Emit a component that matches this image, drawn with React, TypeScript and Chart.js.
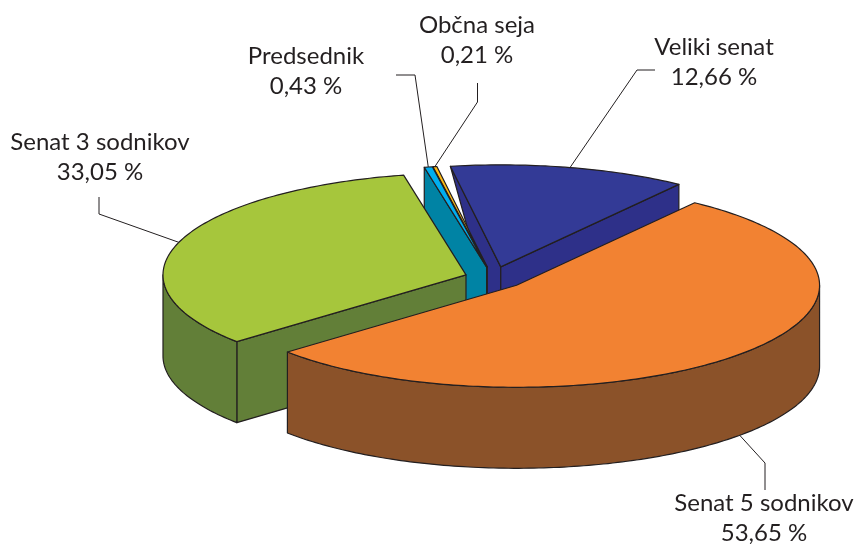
import React, { useEffect, useRef } from "react";
import { Chart, registerables } from "chart.js";

Chart.register(...registerables);

const categories = ["Senat 5 sodnikov", "Senat 3 sodnikov", "Predsednik", "Občna seja", "Veliki senat"];
const shares = [53.65, 33.05, 0.43, 0.21, 12.66];
const topColors = ["#F28232", "#A6C63C", "#00AEEF", "#FDB913", "#333A96"];
const wallColors = ["#8B5229", "#627F38", "#0083A4", "#C98F10", "#2E3089"];
const explode = [32, 28.5, 33, 33, 34];
const paintOrder = [4, 3, 2, 1, 0];
const taperedStartWall = [false, false, false, false, true];

const INK = "#231F20";
const FONT = '24px Lato, "Noto Sans", sans-serif';
const RX = 303;
const RY = 102;
const DEPTH = 81;

// label anchor (centre x, baseline of the first line) and the leader's elbows
const labelLayout = [
  { x: 764, y: 511, elbows: [[765, 463], [765, 490]], fromWall: true },
  { x: 100, y: 150, elbows: [[99, 214], [99, 197]], fromWall: false },
  { x: 306, y: 64, elbows: [[415, 75], [396, 75]], fromWall: false },
  { x: 477, y: 33, elbows: [[477.5, 102], [477.5, 83]], fromWall: false },
  { x: 714, y: 55, elbows: [[637, 70], [655, 70]], fromWall: false },
];

const tiltedPie = {
  id: "tiltedPie",
  beforeDatasetsDraw(chart: any) {
    const ctx: CanvasRenderingContext2D = chart.ctx;
    const arcs = chart.getDatasetMeta(0).data;
    const at = (arc: any, angle: number, radial: number, drop = 0) => {
      const mid = (arc.startAngle + arc.endAngle) / 2;
      const off = arc.options.offset;
      return [
        arc.x + Math.cos(mid) * off + Math.cos(angle) * radial * RX,
        arc.y + (Math.sin(mid) * off * RY) / RX + Math.sin(angle) * radial * RY + drop,
      ];
    };
    const poly = (pts: number[][], fill: string) => {
      ctx.beginPath();
      pts.forEach((p, i) => (i ? ctx.lineTo(p[0], p[1]) : ctx.moveTo(p[0], p[1])));
      ctx.closePath();
      ctx.fillStyle = fill;
      ctx.fill();
      ctx.stroke();
    };
    const sweep = (arc: any, a: number, b: number, drop = 0) => {
      const n = Math.max(2, Math.ceil(Math.abs(b - a) * 60));
      const pts: number[][] = [];
      for (let i = 0; i <= n; i++) pts.push(at(arc, a + ((b - a) * i) / n, 1, drop));
      return pts;
    };
    ctx.save();
    ctx.strokeStyle = INK;
    ctx.lineWidth = 1.2;
    ctx.lineJoin = "round";
    for (const i of paintOrder) {
      const arc = arcs[i];
      const s = arc.startAngle;
      const e = arc.endAngle;
      const apex = at(arc, 0, 0);
      const apexLow = at(arc, 0, 0, DEPTH);
      // radial walls that face the viewer
      if (Math.cos(s) < 0) {
        const outer = taperedStartWall[i] ? [at(arc, s, 1)] : [at(arc, s, 1), at(arc, s, 1, DEPTH)];
        poly([apex, ...outer, apexLow], wallColors[i]);
      }
      if (Math.cos(e) > 0) poly([apex, at(arc, e, 1), at(arc, e, 1, DEPTH), apexLow], wallColors[i]);
      // rim: the part of the arc on the near side
      for (let k = -1; k <= 1; k++) {
        const lo = Math.max(s, 2 * Math.PI * k);
        const hi = Math.min(e, Math.PI + 2 * Math.PI * k);
        if (hi > lo) poly([...sweep(arc, lo, hi), ...sweep(arc, hi, lo, DEPTH)], wallColors[i]);
      }
      // top face
      poly([apex, ...sweep(arc, s, e)], topColors[i]);
    }
    // leaders and labels
    ctx.lineWidth = 1;
    ctx.font = FONT;
    ctx.textAlign = "center";
    ctx.textBaseline = "alphabetic";
    ctx.fillStyle = INK;
    arcs.forEach((arc: any, i: number) => {
      const l = labelLayout[i];
      const mid = (arc.startAngle + arc.endAngle) / 2;
      const start = at(arc, mid, 1, l.fromWall ? DEPTH : 0);
      ctx.beginPath();
      ctx.moveTo(start[0], start[1]);
      l.elbows.forEach((p) => ctx.lineTo(p[0], p[1]));
      ctx.stroke();
      ctx.fillText(categories[i], l.x, l.y);
      ctx.fillText(shares[i].toFixed(2).replace(".", ",") + " %", l.x, l.y + 30);
    });
    ctx.restore();
    return false;
  },
};

export default function App() {
  const ref = useRef<HTMLCanvasElement>(null);
  useEffect(() => {
    const chart = new Chart(ref.current!, {
      type: "pie",
      data: {
        labels: categories,
        datasets: [{ data: shares, backgroundColor: topColors, offset: explode }],
      },
      options: {
        responsive: false,
        animation: false,
        rotation: 36,
        events: [],
        layout: { padding: { left: 129, top: 12 } },
        plugins: { legend: { display: false }, tooltip: { enabled: false } },
      },
      plugins: [tiltedPie],
    } as any);
    return () => chart.destroy();
  }, []);
  return (
    <div style={{ position: "absolute", left: 0, top: 0, width: 857, height: 544 }}>
      <canvas ref={ref} width={857} height={544} style={{ display: "block" }} />
    </div>
  );
}
